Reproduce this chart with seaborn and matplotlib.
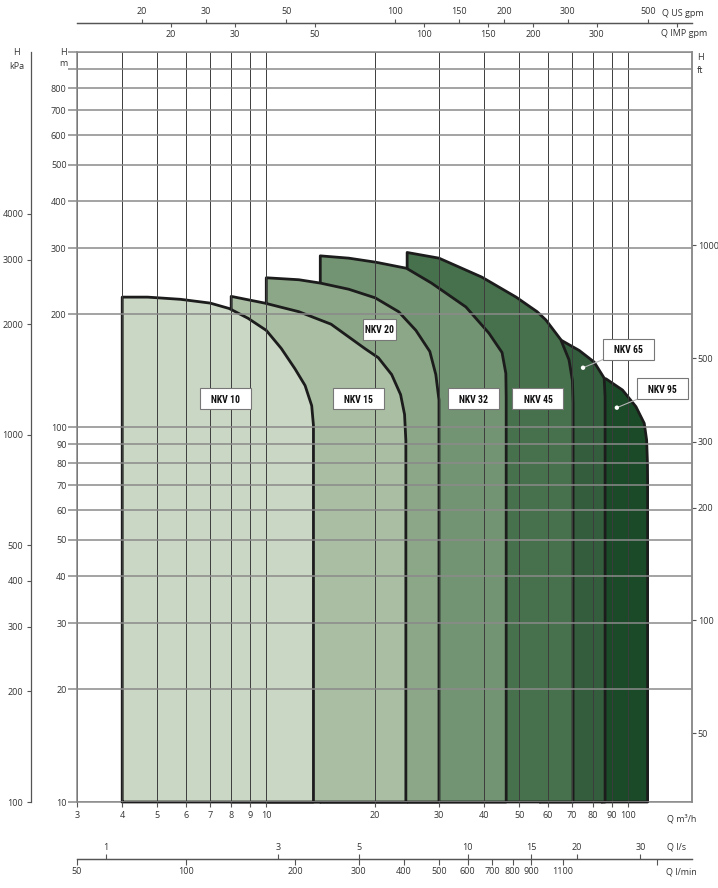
import numpy as np
import matplotlib
matplotlib.use("Agg")
import matplotlib.pyplot as plt
from matplotlib.ticker import NullLocator
from matplotlib.transforms import ScaledTranslation
from matplotlib.patches import Rectangle
import seaborn as sns

# Operating ranges, Q in m3/h and H in m.
# Each list starts at the top-left corner and runs along the curve to the right edge.
nkv10_q = [4.0, 4.7, 5.8, 7.0, 7.9, 8.9, 10.0, 11.0, 12.0, 12.8, 13.35, 13.5]
nkv10_h = [222, 222, 219, 214, 207, 195, 181, 162, 143, 129, 114, 101]

nkv15_q = [8.0, 9.9, 12.3, 15.1, 18.7, 20.4, 22.2, 23.5, 24.1, 24.3]
nkv15_h = [223, 214, 203, 188, 162, 153, 138, 122, 108, 92]

nkv20_q = [10.0, 12.3, 14.1, 16.9, 20.0, 23.2, 25.9, 28.3, 29.4, 30.0]
nkv20_h = [250, 247, 242, 233, 221, 203, 181, 159, 138, 118]

nkv32_q = [14.1, 16.9, 20.1, 24.4, 28.6, 35.6, 41.2, 44.8, 45.9, 46.0]
nkv32_h = [286, 282, 275, 265, 242, 209, 178, 158, 139, 120]

nkv45_q = [24.5, 30.0, 39.4, 49.0, 56.0, 59.2, 65.1, 68.6, 70.1, 70.4]
nkv45_h = [292, 282, 251, 222, 203, 193, 171, 151, 133, 116]

nkv65_q = [57.0, 65.1, 73.2, 80.5, 85.8, 86.3]
nkv65_h = [173, 170.6, 160, 149, 135, 120]

nkv95_q = [84.5, 86.8, 96.4, 105.0, 110.7, 112.4, 113.0, 113.1]
nkv95_h = [134.8, 134.4, 125.5, 113.3, 102.3, 92.3, 80, 72]

series_names = ["NKV 10", "NKV 15", "NKV 20", "NKV 32", "NKV 45", "NKV 65", "NKV 95"]
series_q = [nkv10_q, nkv15_q, nkv20_q, nkv32_q, nkv45_q, nkv65_q, nkv95_q]
series_h = [nkv10_h, nkv15_h, nkv20_h, nkv32_h, nkv45_h, nkv65_h, nkv95_h]
series_colors = ["#cbd7c5", "#a9bea2", "#8ca787", "#739472", "#46714c", "#335d3c", "#1b4a28"]

# label boxes inside the ranges
box_names = ["NKV 10", "NKV 15", "NKV 20", "NKV 32", "NKV 45"]
box_q = [7.74, 18.0, 20.5, 37.4, 56.3]
box_h = [119, 119, 182, 119, 119]
box_w = [0.51, 0.51, 0.33, 0.51, 0.51]

# labels with a leader line to a dot
lead_names = ["NKV 65", "NKV 95"]
lead_q = [100.3, 124.6]
lead_h = [161.4, 126.6]
dot_q = [75.0, 93.0]
dot_h = [143.9, 112.6]

# axis ticks
q_ticks = [3, 4, 5, 6, 7, 8, 9, 10, 20, 30, 40, 50, 60, 70, 80, 90, 100]
h_ticks = [10, 20, 30, 40, 50, 60, 70, 80, 90, 100, 200, 300, 400, 500, 600, 700, 800, 900, 1000]
kpa_ticks = [100, 200, 300, 400, 500, 1000, 2000, 3000, 4000]
ft_ticks = [50, 100, 200, 300, 500, 1000]
us_ticks = [20, 30, 50, 100, 150, 200, 300, 500]
imp_ticks = [20, 30, 50, 100, 150, 200, 300, 500]
imp_labels = ["20", "30", "50", "100", "150", "200", "300", ""]
ls_ticks = [1, 3, 5, 10, 15, 20, 30]
lmin_ticks = [50, 100, 200, 300, 400, 500, 600, 700, 800, 900, 1100, 2000]
lmin_labels = ["50", "100", "200", "300", "400", "500", "600", "700", "800", "900", "1100", ""]

Q_MIN, Q_MAX = 3, 150
H_MIN, H_MAX = 10, 1000
KPA_EXP = 383 / 375  # the kPa scale is printed slightly stretched against the m scale

EDGE = "#1c1c1c"
TXT = "#333333"
GRID_H = "#8a8a8a"
GRID_V = "#3c3c3c"
AXC = "#555555"
FS = 6.5
LABEL_FONT = ["Roboto Condensed", "Roboto", "DejaVu Sans"]
BOX_H = 0.21


def pos(a):
    return np.maximum(np.asarray(a, dtype=float), 1e-9)


sns.set_theme(style="ticks")
plt.rcParams["font.family"] = ["Open Sans", "DejaVu Sans"]

fig = plt.figure(figsize=(7.18, 8.88), dpi=100)
ax = fig.add_axes([77 / 718, 86 / 888, 615 / 718, 750 / 888])
ax.set_xscale("log")
ax.set_yscale("log")

# ranges: the smallest pump is drawn last so it sits on top
n = len(series_names)
for i in range(n - 1, -1, -1):
    q = series_q[i]
    h = series_h[i]
    qq = [q[0]] + q + [q[-1], q[0]]
    hh = [H_MIN] + h + [H_MIN, H_MIN]
    z = 1.0 + (n - 1 - i) * 0.05
    ax.fill(qq, hh, color=series_colors[i], lw=0, zorder=z)
    sns.lineplot(x=qq, y=hh, sort=False, estimator=None, color=EDGE, lw=2.0,
                 ax=ax, zorder=z + 0.01, clip_on=False, legend=False)

ax.set_xlim(Q_MIN, Q_MAX)
ax.set_ylim(H_MIN, H_MAX)

ax.set_xticks(q_ticks, labels=[str(t) for t in q_ticks])
ax.set_yticks(h_ticks, labels=[str(t) if t <= 800 else "" for t in h_ticks])
ax.minorticks_off()
ax.set_axisbelow("line")
ax.grid(axis="y", color=GRID_H, lw=1.1)
ax.grid(axis="x", color=GRID_V, lw=0.7)
ax.tick_params(axis="x", length=3.5, width=0.8, color=AXC, labelsize=FS,
               labelcolor=TXT, pad=3, top=False)
ax.tick_params(axis="y", length=6.5, width=1.1, color=GRID_H, labelsize=FS,
               labelcolor=TXT, pad=1, right=False)
ax.set_xlabel("")
ax.set_ylabel("")
for s in ax.spines.values():
    s.set_color(GRID_H)
    s.set_linewidth(1.1)
ax.spines["bottom"].set_zorder(0.9)


def label_box(q, h, text, w):
    # white box of fixed size (inches) centred on the data point
    trans = fig.dpi_scale_trans + ScaledTranslation(q, h, ax.transData)
    ax.add_patch(Rectangle((-w / 2, -BOX_H / 2), w, BOX_H, transform=trans,
                           fc="white", ec="#777777", lw=0.8, zorder=4, clip_on=False))
    ax.text(q, h, text, ha="center", va="center_baseline", fontsize=7,
            fontweight="bold", family=LABEL_FONT, color="#111111", zorder=5)


for name, q, h, w in zip(box_names, box_q, box_h, box_w):
    label_box(q, h, name, w)

for name, q, h, dq, dh in zip(lead_names, lead_q, lead_h, dot_q, dot_h):
    ax.annotate("", xy=(dq, dh), xytext=(q, h), zorder=3.5,
                arrowprops=dict(arrowstyle="-", color="#b5b5b5", lw=0.8,
                                shrinkA=0, shrinkB=0))
    label_box(q, h, name, 0.51)

sns.scatterplot(x=dot_q, y=dot_h, color="white", s=10, edgecolor="none", ax=ax,
                zorder=4, legend=False)


def style_secondary(sec, axis, ticks, labels, length, pad):
    sec.set_ticks(ticks, labels=labels)
    if axis == "x":
        sec.xaxis.set_minor_locator(NullLocator())
    else:
        sec.yaxis.set_minor_locator(NullLocator())
    sec.tick_params(which="major", length=length, width=0.8, color=AXC,
                    labelsize=FS, labelcolor=TXT, pad=pad)
    sec.tick_params(which="minor", length=0)
    for s in sec.spines.values():
        s.set_color(AXC)
        s.set_linewidth(0.9)


# top: US and imperial gallons per minute
top_us = ax.secondary_xaxis(1.0391, functions=(lambda q: pos(q) * 4.403, lambda g: pos(g) / 4.403))
style_secondary(top_us, "x", us_ticks, [str(t) for t in us_ticks], 3, 1.5)
top_imp = ax.secondary_xaxis(1.0391, functions=(lambda q: pos(q) * 3.666, lambda g: pos(g) / 3.666))
top_imp.set_alignment("bottom")
style_secondary(top_imp, "x", imp_ticks, imp_labels, 3, 2)

# bottom: litres per second and per minute
bot_ls = ax.secondary_xaxis(-0.076, functions=(lambda q: pos(q) / 3.6, lambda v: pos(v) * 3.6))
bot_ls.set_alignment("top")
style_secondary(bot_ls, "x", ls_ticks, [str(t) for t in ls_ticks], 3.5, 1.5)
bot_lmin = ax.secondary_xaxis(-0.076, functions=(lambda q: pos(q) * 1000 / 60, lambda v: pos(v) * 60 / 1000))
style_secondary(bot_lmin, "x", lmin_ticks, lmin_labels, 4, 2)

# left: kPa, right: ft
left_kpa = ax.secondary_yaxis(-0.0748, functions=(lambda h: 100 * (pos(h) / 10) ** KPA_EXP,
                                                  lambda k: 10 * (pos(k) / 100) ** (1 / KPA_EXP)))
style_secondary(left_kpa, "y", kpa_ticks, [str(t) for t in kpa_ticks], 3, 2.5)
right_ft = ax.secondary_yaxis("right", functions=(lambda h: pos(h) / 0.3048, lambda f: pos(f) * 0.3048))
style_secondary(right_ft, "y", ft_ticks, [str(t) for t in ft_ticks], 3, 1.2)
right_ft.spines["right"].set_color(GRID_H)
right_ft.spines["right"].set_linewidth(1.1)

# axis names
tk = dict(transform=ax.transAxes, fontsize=FS, color=TXT, va="center")
ax.text(-0.099, 0.9987, "H", ha="center", **tk)
ax.text(-0.098, 0.9813, "kPa", ha="center", **tk)
ax.text(-0.0228, 0.9987, "H", ha="center", **tk)
ax.text(-0.0228, 0.9853, "m", ha="center", **tk)
ax.text(1.0138, 0.9933, "H", ha="center", **tk)
ax.text(1.0138, 0.9747, "ft", ha="center", **tk)
ax.text(0.9837, -0.0227, "Q m³/h", ha="center", **tk)
ax.text(0.9854, 1.0507, "Q US gpm", ha="center", **tk)
ax.text(0.9870, 1.0253, "Q IMP gpm", ha="center", **tk)
ax.text(0.9756, -0.0600, "Q l/s", ha="center", **tk)
ax.text(0.9820, -0.0933, "Q l/min", ha="center", **tk)

fig.savefig("out.png", dpi=100, facecolor="white")
